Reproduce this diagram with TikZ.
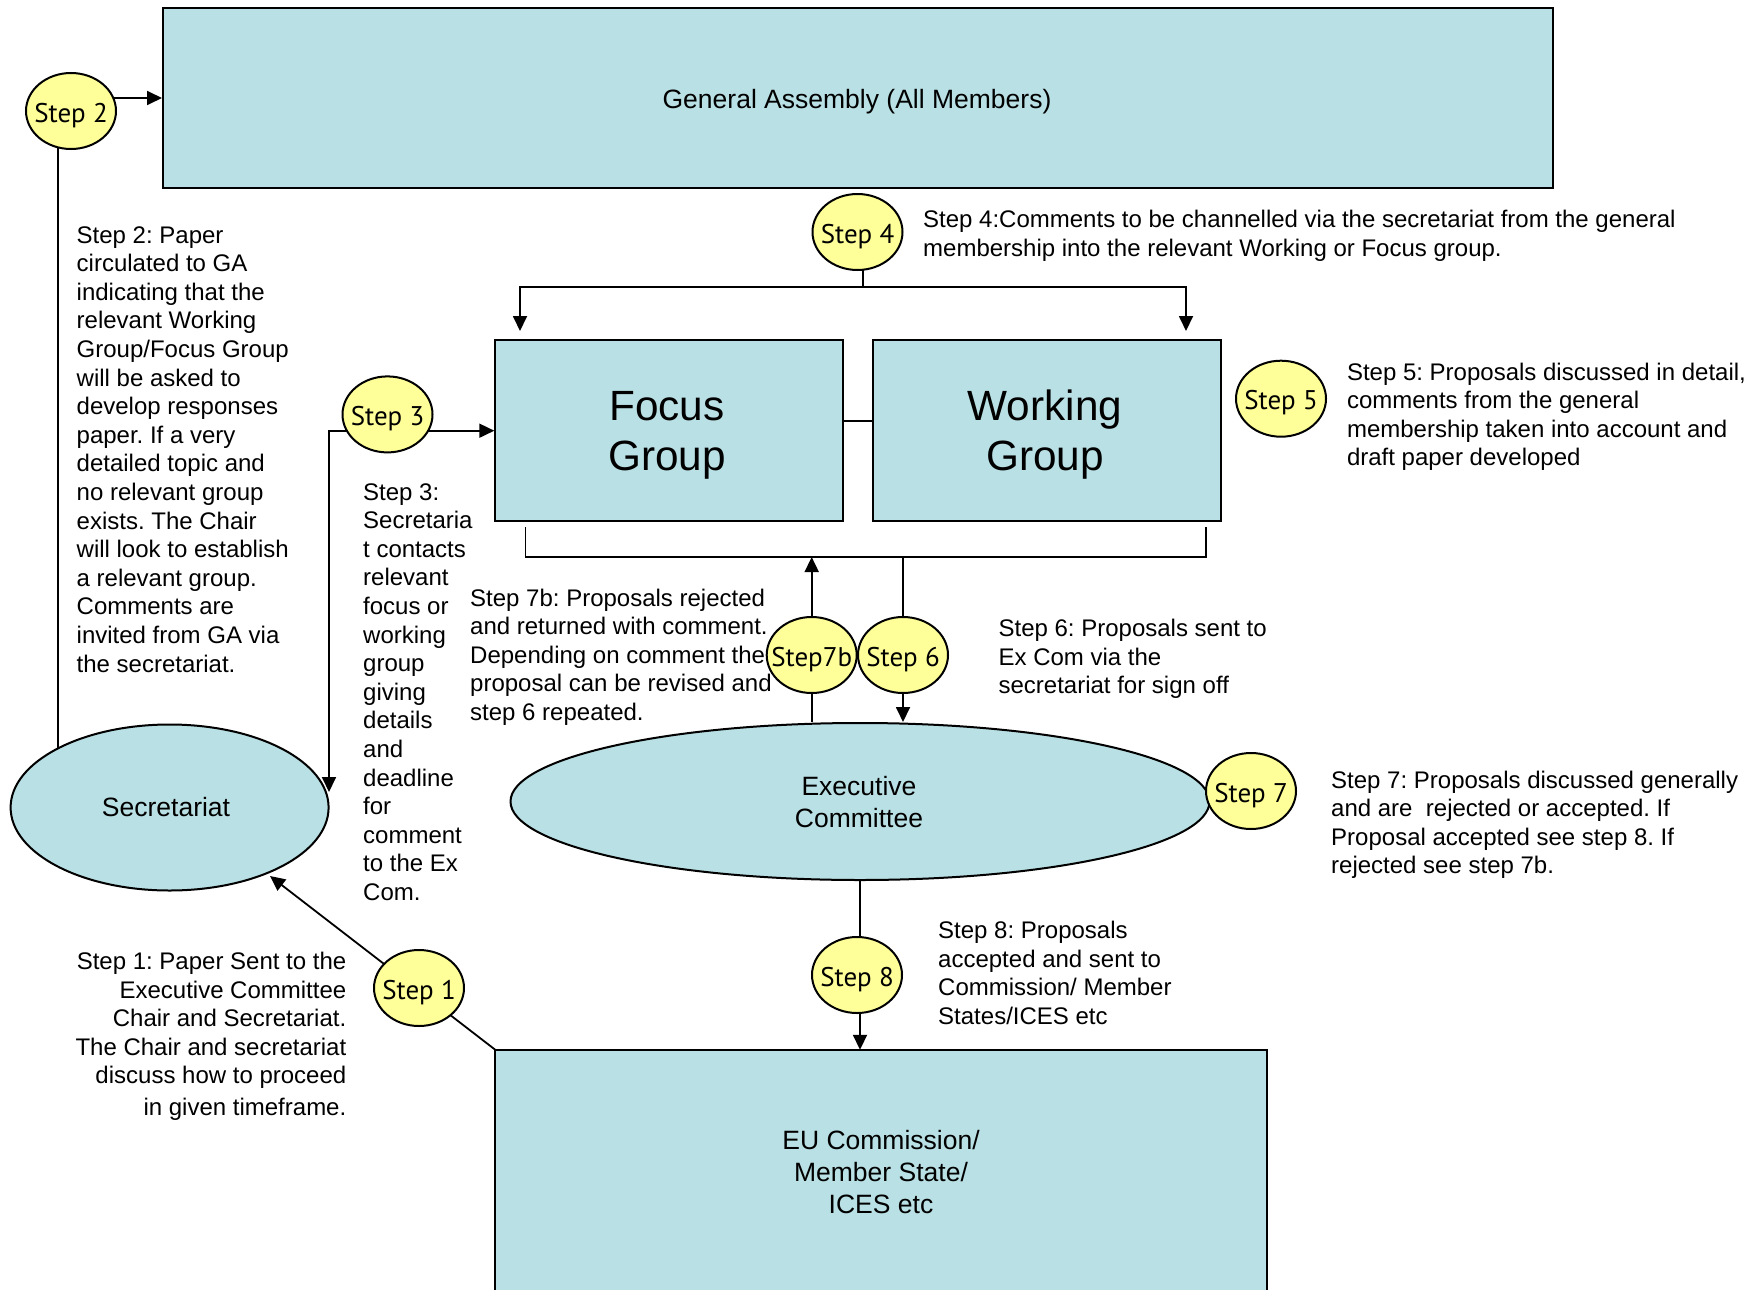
\documentclass[tikz,border=0pt]{standalone}
\usepackage{fontspec}
\setmainfont{Liberation Sans}
\newfontfamily\stepfont{PT Sans}
\usetikzlibrary{arrows.meta,shapes.geometric}
\definecolor{boxteal}{RGB}{185,224,228}
\definecolor{stepyellow}{RGB}{255,255,153}
\frenchspacing
\begin{document}
\frenchspacing
\begin{tikzpicture}[x=1pt,y=-1pt,
  boxnode/.style={draw=black, line width=2pt, fill=boxteal, rectangle, inner sep=0pt},
  ellnode/.style={draw=black, line width=2pt, fill=boxteal, ellipse, inner sep=0pt},
  stepnode/.style={draw=black, line width=2pt, fill=stepyellow, ellipse, inner sep=0pt, minimum width=90pt, minimum height=76pt},
  steptxt/.style={font=\stepfont\fontsize{27}{30}\selectfont, inner sep=0pt, anchor=base},
  desc/.style={font=\fontsize{24}{28.6}\selectfont\frenchspacing, align=left, inner sep=0pt, anchor=base west},
  mainlbl/.style={font=\fontsize{26.5}{32}\selectfont, align=center, inner sep=0pt, anchor=base},
  biglbl/.style={font=\fontsize{42.3}{50}\selectfont, align=center, inner sep=0pt, anchor=base},
  conn/.style={line width=1.8pt},
  arr/.style={conn, -{Triangle[length=15pt,width=14pt]}},
  arrboth/.style={conn, {Triangle[length=15pt,width=14pt]}-{Triangle[length=15pt,width=14pt]}},
]
\fill[white] (0,0) rectangle (1761,1290);
\useasboundingbox (0,0) rectangle (1761,1290);

% main boxes
\node[boxnode, minimum width=1390pt, minimum height=180pt] (ga) at (858,98) {};
\node[boxnode, minimum width=348pt, minimum height=181pt] (fg) at (669.3,430.7) {};
\node[boxnode, minimum width=348pt, minimum height=181pt] (wg) at (1046.8,430.7) {};
\node[ellnode, minimum width=318pt, minimum height=166pt] (sec) at (169.6,807.5) {};
\node[ellnode, minimum width=699pt, minimum height=157pt] (ex) at (860,801.5) {};
\node[fill=boxteal, inner sep=0pt, minimum width=771pt, minimum height=240pt] (eu) at (881,1170) {};
\draw[line width=2pt] (eu.south west) |- (eu.north) -| (eu.south east);

% coordinates
\coordinate (j2) at (58,749);
\coordinate (t3) at (329,792);
\coordinate (j4) at (863,287);
\coordinate (a4l) at (520,331);
\coordinate (a4r) at (1186,331);
\coordinate (b0) at (525.5,527);
\coordinate (b1) at (525.5,557);
\coordinate (b2) at (1206,557);
\coordinate (b3) at (1206,527);
\coordinate (t1) at (270,876);

% step positions
\path (71,111) coordinate (p2) (387.5,414.4) coordinate (p3) (857.5,232) coordinate (p4)
      (1281,398.7) coordinate (p5) (903,655) coordinate (p6) (811.7,655) coordinate (p7b)
      (1251,791) coordinate (p7) (857,975) coordinate (p8) (419,988) coordinate (p1);

% connectors
\draw[conn] (j2 |- p2) -- (j2);
\draw[arr] ([yshift=13pt]p2) -- ([yshift=13pt]p2 -| ga.west);
\draw[arrboth] (t3) |- (fg.west);
\draw[conn] (j4 |- p4) -- (j4);
\draw[arr] (j4) -| (a4l);
\draw[arr] (j4) -| (a4r);
\draw[conn] ([yshift=10pt]fg.east) -- ([yshift=10pt]wg.west);
\draw[conn] (b0) -- (b1) -- (b2) -- (b3);
\draw[arr] (p7b |- ex.north) -- (p7b |- b1);
\draw[arr] (p6 |- b1) -- (p6 |- ex.north);
\draw[arr] (ex.south) -- (ex.south |- eu.north);
\draw[arr] (eu.north west) -- (t1);

% step circles
\foreach \p/\n/\t in {p1/s1/Step 1,p2/s2/Step 2,p3/s3/Step 3,p4/s4/Step 4,p5/s5/Step 5,p6/s6/Step 6,p7b/s7b/Step7b,p7/s7/Step 7,p8/s8/Step 8}{
  \node[stepnode] (\n) at (\p) {};
  \node[steptxt] (\n t) at ([yshift=-11pt]\n.center) {\t};
}

% labels inside shapes (base anchor = baseline of the last line)
\node[mainlbl] (gat) at (857,108) {General Assembly (All Members)};
\node[biglbl] (fgt) at (667,470) {Focus\\Group};
\node[biglbl] (wgt) at (1045,470) {Working\\Group};
\node[mainlbl] (sect) at (166,816.6) {Secretariat};
\node[mainlbl] (ext) at (859,827) {Executive\\Committee};
\node[mainlbl] (eut) at (881,1213) {EU Commission/\\Member State/\\ICES etc};

% descriptions (base anchor = baseline of the last line)
\node[desc] (d2) at (76.5,672) {Step 2: Paper\\circulated to GA\\indicating that the\\relevant Working\\Group/Focus Group\\will be asked to\\develop responses\\paper. If a very\\detailed topic and\\no relevant group\\exists. The Chair\\will look to establish\\a relevant group.\\Comments are\\invited from GA via\\the secretariat.};
\node[desc] (d3) at (363,900.4) {Step 3:\\Secretaria\\t contacts\\relevant\\focus or\\working\\group\\giving\\details\\and\\deadline\\for\\comment\\to the Ex\\Com.};
\node[desc] (d4) at (923,256.1) {Step 4:Comments to be channelled via the secretariat from the general\\membership into the relevant Working or Focus group.};
\node[desc] (d5) at (1346.8,465.8) {Step 5: Proposals discussed in detail,\\comments from the general\\membership taken into account and\\draft paper developed};
\node[desc] (d6) at (998.4,693.7) {Step 6: Proposals sent to\\Ex Com via the\\secretariat for sign off};
\node[desc] (d7b) at (470,720.4) {Step 7b: Proposals rejected\\and returned with comment.\\Depending on comment the\\proposal can be revised and\\step 6 repeated.};
\node[desc] (d7) at (1331,873.8) {Step 7: Proposals discussed generally\\and are\ \ rejected or accepted. If\\Proposal accepted see step 8. If\\rejected see step 7b.};
\node[desc] (d8) at (938,1024.3) {Step 8: Proposals\\accepted and sent to\\Commission/ Member\\States/ICES etc};
\node[desc, align=right, anchor=base east] (d1) at (346.5,1115.5) {Step 1: Paper Sent to the\\Executive Committee\\Chair and Secretariat.\\The Chair and secretariat\\discuss how to proceed\\[3pt]in given timeframe.};
\end{tikzpicture}
\end{document}
